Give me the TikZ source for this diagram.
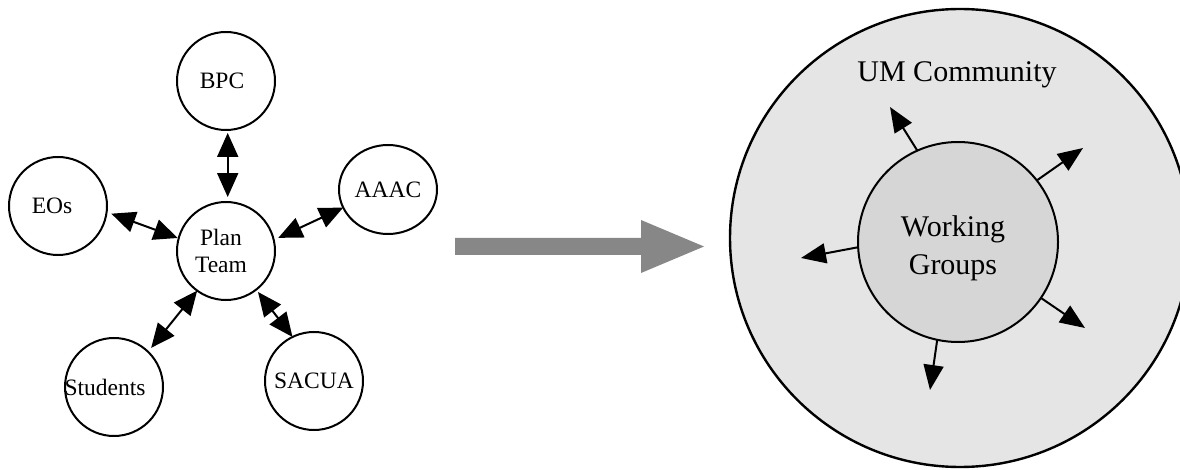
\documentclass[tikz,border=0pt]{standalone}
\usepackage{fontspec}
\setmainfont{Liberation Serif}
\usetikzlibrary{arrows.meta,shapes.geometric}
\definecolor{arrowgray}{gray}{0.53}
\definecolor{outerfill}{gray}{0.9}
\definecolor{innerfill}{gray}{0.84}
\tikzset{
  member/.style={draw, circle, line width=2pt, inner sep=0pt, outer sep=0pt,
    minimum size=98pt, align=center, font=\fontsize{23.5}{27.5}\selectfont},
  link/.style={line width=2pt, {Triangle[length=24pt,width=21pt]}-{Triangle[length=24pt,width=21pt]}},
  spread/.style={line width=2pt, -{Triangle[length=25pt,width=20pt]}},
  bigtext/.style={inner sep=0pt, align=center, font=\fontsize{30}{38}\selectfont}
}
\begin{document}
\begin{tikzpicture}[x=1pt,y=-1pt]
\clip (0,0) rectangle (1180,470);
\fill[white] (0,0) rectangle (1180,470);

% left: Plan Team network
\node[member] (plan) at (226,251) {\hspace*{-10pt}Plan\\\hspace*{-10pt}Team};
\node[member] (bpc) at (226,81) {\hspace*{-8pt}BPC};
\node[member] (eos) at (58,206) {\hspace*{-12pt}EOs};
\node[member, ellipse, minimum width=98pt, minimum height=89pt] (aaac) at (388,189.5) {AAAC};
\node[member] (stu) at (114,387) {\hspace*{-18pt}Students};
\node[member] (sacua) at (314,381) {SACUA};

\draw[link, shorten <=3pt, shorten >=5pt] (bpc.-88) -- (plan.88);
\draw[link, shorten <=5pt, shorten >=1pt] (eos.-7) -- (plan.165);
\draw[link, shorten <=0pt, shorten >=5pt] (aaac.-158) -- (plan.13.5);
\draw[link, shorten <=5pt, shorten >=0pt] (stu.46.5) -- (plan.-126.6);
\draw[link, shorten <=0pt, shorten >=3pt] (sacua.116.6) -- (plan.-52.7);

% big gray arrow
\fill[arrowgray] (455,238) -- (641,238) -- (641,220) -- (704,246.5) -- (641,273) -- (641,255) -- (455,255) -- cycle;

% right: UM community
\node[draw, ellipse, line width=2.4pt, fill=outerfill, inner sep=0pt, outer sep=0pt,
      minimum width=460pt, minimum height=458pt] (um) at (960,238) {};
\node[draw, circle, line width=2pt, fill=innerfill, inner sep=0pt, outer sep=0pt,
      minimum size=200pt] (wg) at (958,242) {};
\node[bigtext] (umtext) at (957,75) {UM Community};
\node[bigtext] (wgtext) at (953,248) {Working\\Groups};

\coordinate (e1) at (890,107);
\coordinate (e2) at (1083,148);
\coordinate (e3) at (801,258);
\coordinate (e4) at (1085,328);
\coordinate (e5) at (930,390);
\draw[spread] (wg.114) -- (e1);
\draw[spread] (wg.38.3) -- (e2);
\draw[spread] (wg.183.4) -- (e3);
\draw[spread] (wg.-34) -- (e4);
\draw[spread] (wg.-102.4) -- (e5);
\end{tikzpicture}
\end{document}
